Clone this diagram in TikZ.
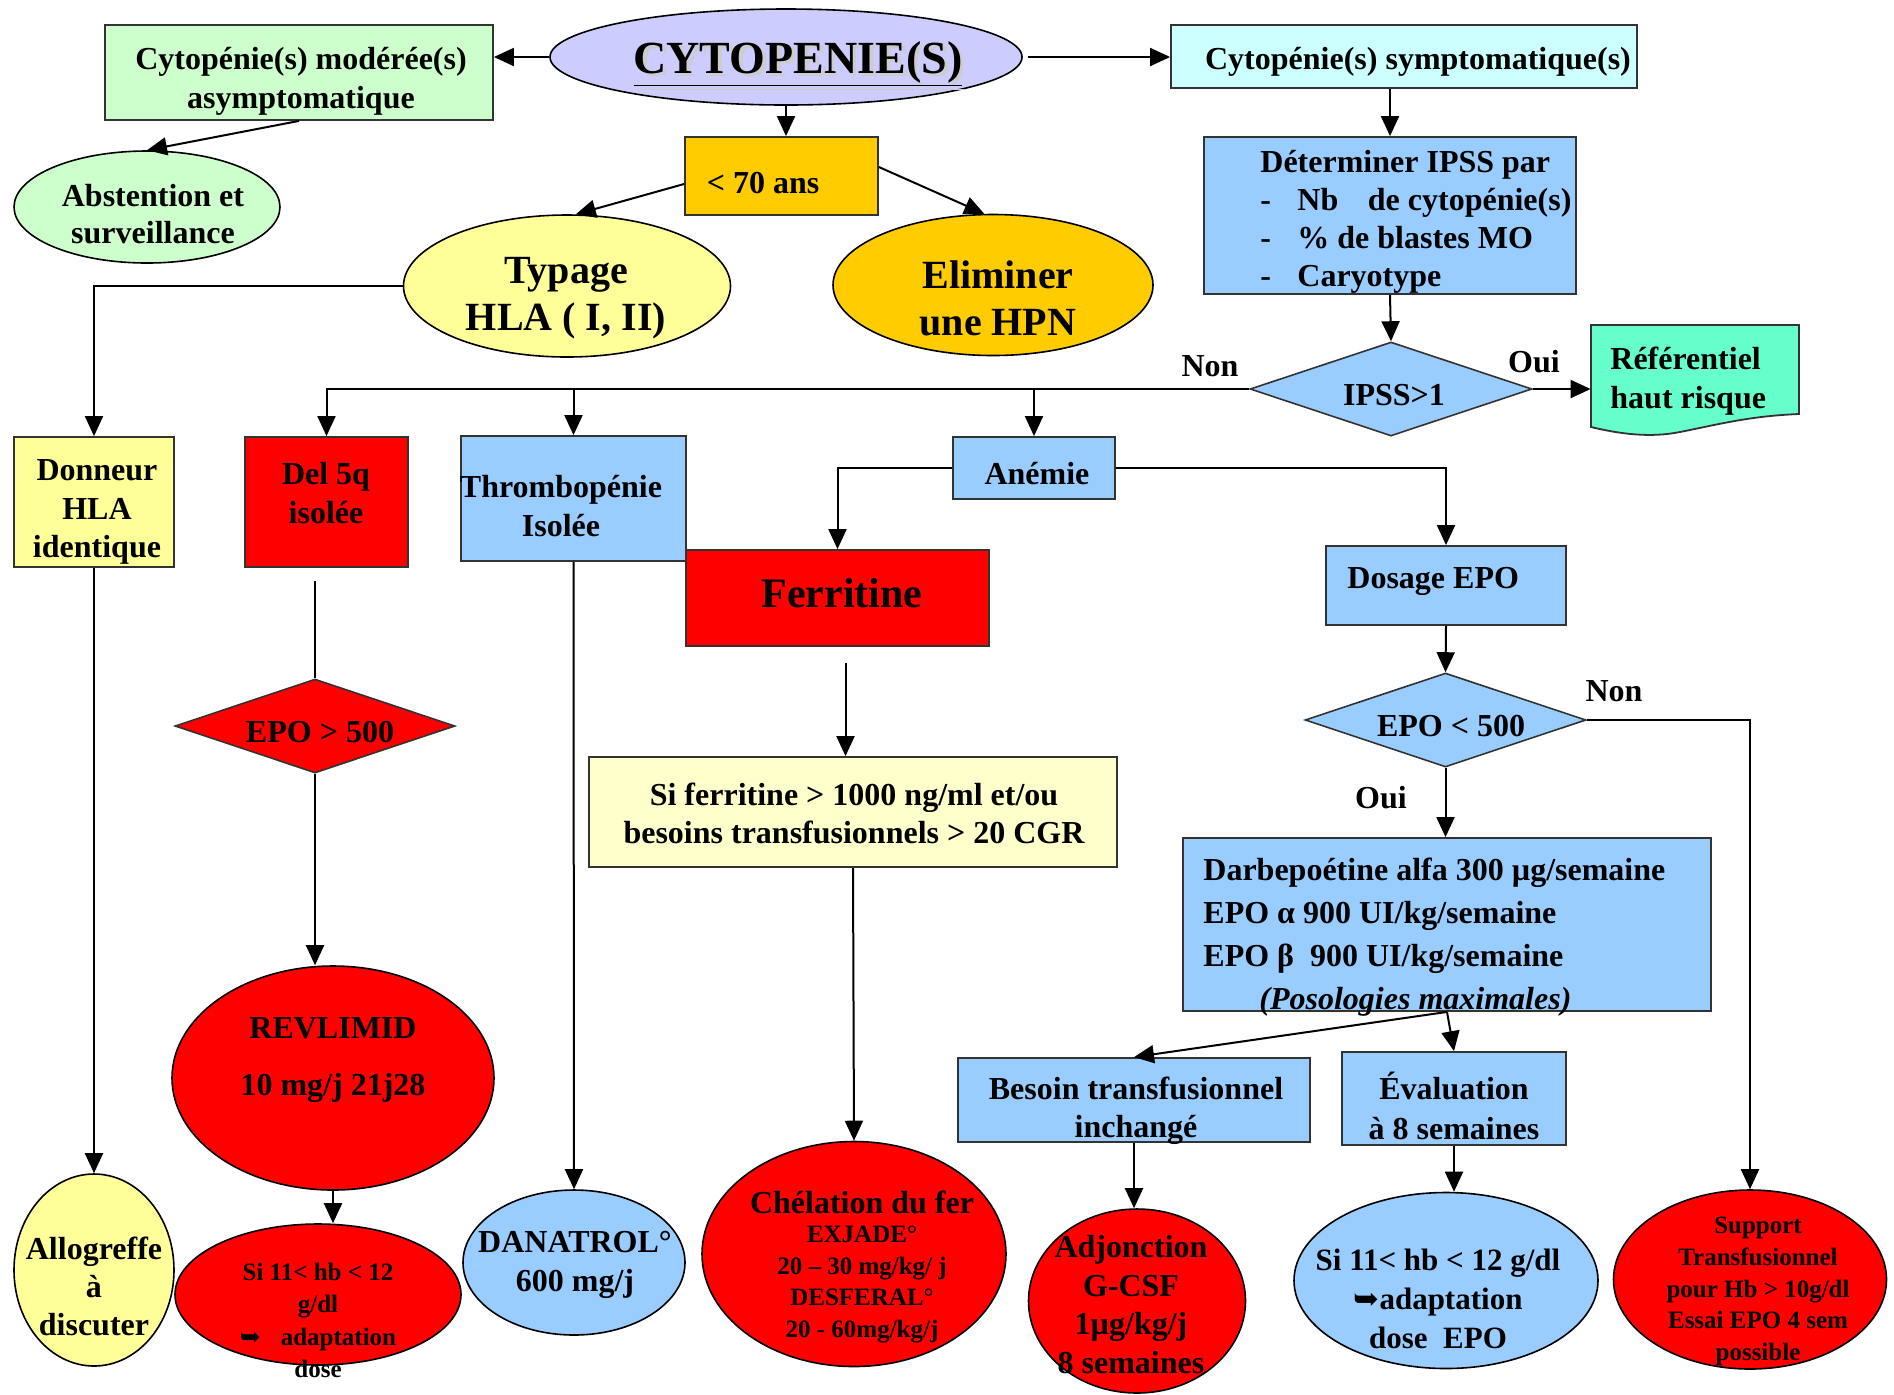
\documentclass[tikz,border=0pt]{standalone}
\usepackage{fontspec}
\setmainfont{Liberation Serif}
\newfontfamily\djv{DejaVu Sans}
\usetikzlibrary{shapes.geometric,arrows.meta,calc}
\definecolor{lav}{HTML}{CCCCFF}
\definecolor{lgreen}{HTML}{CCFFCC}
\definecolor{lcyan}{HTML}{CCFFFF}
\definecolor{gold}{HTML}{FFCC00}
\definecolor{lyel}{HTML}{FFFF99}
\definecolor{pyel}{HTML}{FFFFCC}
\definecolor{lblue}{HTML}{99CCFF}
\definecolor{aqua}{HTML}{66FFCC}
\newcommand\fz[2]{\fontsize{#1}{#2}\selectfont}
\begin{document}
\begin{tikzpicture}[x=0.5pt,y=-0.5pt,
  box/.style={draw=black!80, line width=0.9pt, rectangle, inner sep=0},
  ell/.style={draw=black, line width=0.8pt, ellipse, inner sep=0},
  dia/.style={draw=black!80, line width=0.8pt, diamond, inner sep=0},
  txt/.style={inner sep=0, align=center, yshift=-2pt, font=\bfseries\fz{16}{19.25}},
  arr/.style={line width=1pt, -{Triangle[length=10pt,width=9pt]}},
  ln/.style={line width=1pt}]
\useasboundingbox[fill=white] (0,0) rectangle (1894,1394);

% top
\node[ell, fill=lav, minimum width=236pt, minimum height=48pt] (cyto) at (786,57) {};
\node[txt, font=\bfseries\fz{23}{27}, text=gray!40] (cytoS) at (801.5,63.5) {\underline{CYTOPENIE(S)}};
\node[txt, font=\bfseries\fz{23}{27}] (cytoT) at (798,60) {\underline{CYTOPENIE(S)}};

\node[box, fill=lgreen, minimum width=194pt, minimum height=47.5pt] (mod) at (299,72.5) {};
\node[txt] (modT) at (301,77.5) {Cytopénie(s) modérée(s)\\asymptomatique};

\node[ell, fill=lgreen, minimum width=133pt, minimum height=56pt] (abst) at (147,207) {};
\node[txt, font=\bfseries\fz{16}{18.75}] (abstT) at (153,210) {Abstention et\\surveillance};

\node[box, fill=lcyan, minimum width=233pt, minimum height=31.5pt] (sym) at (1404,56.5) {};
\node[txt] (symT) at (1418,58) {Cytopénie(s) symptomatique(s)};

\node[box, fill=gold, minimum width=96.5pt, minimum height=39pt] (age) at (781.5,176) {};
\node[txt] (ageT) at (763,179) {< 70 ans};

\node[ell, fill=lyel, minimum width=163.5pt, minimum height=71pt] (typ) at (567,286) {};
\node[txt, font=\bfseries\fz{20}{23.5}] (typT) at (566,294) {Typage\\HLA ( I, II)};

\node[ell, fill=gold, minimum width=160pt, minimum height=70.5pt] (elim) at (993,285) {};
\node[txt, font=\bfseries\fz{20}{23.5}] (elimT) at (998,294) {Eliminer\\une HPN};

\node[box, fill=lblue, minimum width=186pt, minimum height=78.5pt] (ipssb) at (1390,215.5) {};
\node[txt, align=left, anchor=west, font=\bfseries\fz{16}{19}] (ipssT) at (1260,218) {Déterminer IPSS par\\\makebox[18.5pt][l]{-}Nb\hspace{14.8pt}de cytopénie(s)\\\makebox[18.5pt][l]{-}\% de blastes MO\\\makebox[18.5pt][l]{-}Caryotype};

\node[dia, fill=lblue, minimum width=141pt, minimum height=47pt] (ipssd) at (1391,389) {};
\node[txt] (ipssdT) at (1394,391) {IPSS>1};
\node[txt] (oui1) at (1534,358) {Oui};
\node[txt] (non1) at (1210,362) {Non};

\path[draw=black!80, line width=0.9pt, fill=aqua] (1591,325) -- (1799,325) -- (1799,414)
  .. controls (1750,416) and (1720,424) .. (1680,432)
  .. controls (1650,438) and (1620,434) .. (1591,427) -- cycle;
\node[inner sep=0, minimum width=104pt, minimum height=56pt] (ref) at (1695,381) {};
\node[txt, align=left, anchor=west] (refT) at (1610,377) {Référentiel\\haut risque};

% middle row
\node[box, fill=lyel, minimum width=80pt, minimum height=65pt] (don) at (94,502) {};
\node[txt] (donT) at (97,508) {Donneur\\HLA\\identique};

\node[box, fill=red, minimum width=81.5pt, minimum height=65pt] (del) at (326.5,502) {};
\node[txt] (delT) at (326,489) {Del 5q\\isolée};

\node[box, fill=lblue, minimum width=112.5pt, minimum height=62.5pt] (thr) at (573.5,498.5) {};
\node[txt] (thrT) at (561,502) {Thrombopénie\\Isolée};

\node[box, fill=lblue, minimum width=81pt, minimum height=31pt] (ane) at (1034,468) {};
\node[txt] (aneT) at (1037,470) {Anémie};

\node[box, fill=red, minimum width=151.5pt, minimum height=48pt] (fer) at (837.5,598) {};
\node[txt, font=\bfseries\fz{21}{25}] (ferT) at (842,589) {Ferritine};

\node[box, fill=pyel, minimum width=264pt, minimum height=55pt] (sif) at (853,812) {};
\node[txt] (sifT) at (854,809.5) {Si ferritine > 1000 ng/ml et/ou\\besoins transfusionnels > 20 CGR};

\node[box, fill=lblue, minimum width=120pt, minimum height=39.5pt] (dos) at (1446,585.5) {};
\node[txt, anchor=west] (dosT) at (1347,577) {Dosage EPO};

\node[dia, fill=lblue, minimum width=140.5pt, minimum height=47pt] (epolt) at (1445.5,720) {};
\node[txt] (epoltT) at (1451,722) {EPO < 500};
\node[txt] (non2) at (1614,687) {Non};
\node[txt] (oui2) at (1381,794) {Oui};

\node[box, fill=lblue, minimum width=264pt, minimum height=86.5pt] (dar) at (1447,924.5) {};
\node[txt, align=left, anchor=west, font=\bfseries\fz{16}{21.5}] (darT) at (1203,933.5) {Darbepoétine alfa 300 µg/semaine\\EPO α 900 UI/kg/semaine\\EPO β\ \ 900 UI/kg/semaine\\\hspace*{28pt}\itshape (Posologies maximales)};

\node[box, fill=lblue, minimum width=176pt, minimum height=42pt] (bes) at (1134,1100) {};
\node[txt] (besT) at (1136,1106.5) {Besoin transfusionnel\\inchangé};

\node[box, fill=lblue, minimum width=112pt, minimum height=46.5pt] (eva) at (1454,1098.5) {};
\node[txt, font=\bfseries\fz{16}{20}] (evaT) at (1454,1102) {Évaluation\\à 8 semaines};

\node[dia, fill=red, minimum width=140pt, minimum height=47pt] (epogt) at (315,726) {};
\node[txt] (epogtT) at (320,728) {EPO > 500};

% bottom
\node[ell, fill=red, minimum width=161pt, minimum height=112pt] (rev) at (333,1078) {};
\node[txt, font=\bfseries\fz{16}{28.5}] (revT) at (333,1056) {REVLIMID\\10 mg/j 21j28};

\node[ell, fill=red, minimum width=143pt, minimum height=70.5pt] (sir) at (318,1294.5) {};
\node[txt, font=\bfseries\fz{12.5}{16.2}] (sirT) at (318,1316.5) {Si 11< hb < 12\\g/dl\\{\djv ➥}\hspace{10pt}adaptation\\dose};

\node[ell, fill=lyel, minimum width=80pt, minimum height=96pt] (allo) at (94,1270) {};
\node[txt, font=\bfseries\fz{16}{19}] (alloT) at (94,1282) {Allogreffe\\à\\discuter};

\node[ell, fill=lblue, minimum width=111pt, minimum height=72.5pt] (dan) at (574,1262.5) {};
\node[txt] (danT) at (575,1261) {DANATROL°\\600 mg/j};

\node[ell, fill=red, minimum width=152pt, minimum height=112.5pt] (chel) at (854,1254) {};
\node[txt] (chelT) at (862,1198) {Chélation du fer};
\node[txt, font=\bfseries\fz{12.5}{15.8}] (chelB) at (862,1280.5) {EXJADE°\\20 – 30 mg/kg/ j\\DESFERAL°\\20 - 60mg/kg/j};

\node[ell, fill=red, minimum width=108.5pt, minimum height=92pt] (adj) at (1137,1301) {};
\node[txt, font=\bfseries\fz{16}{19.25}] (adjT) at (1131,1300.5) {Adjonction\\G-CSF\\1µg/kg/j\\8 semaines};

\node[ell, fill=lblue, minimum width=152pt, minimum height=88pt] (sib) at (1446,1280.5) {};
\node[txt, font=\bfseries\fz{15.5}{19.5}] (sibT) at (1438,1295) {Si 11< hb < 12 g/dl\\{\djv ➥}adaptation\\dose\ \ EPO};

\node[ell, fill=red, minimum width=136.5pt, minimum height=89.5pt] (sup) at (1750,1279.5) {};
\node[txt, font=\bfseries\fz{12.5}{15.8}] (supT) at (1758,1287.5) {Support\\Transfusionnel\\pour Hb > 10g/dl\\Essai EPO 4 sem\\possible};

% connectors
\draw[arr] (cyto.west) -- (cyto.west -| mod.east);
\draw[arr] (mod.south) -- (abst.north);
\draw[arr] ($(cyto.east)+(5,0)$) -- (cyto.east -| sym.west);
\draw[arr] (cyto.south) -- (cyto.south |- age.north);
\draw[arr] ($(age.west)+(0,8)$) -- (typ.83);
\draw[arr] ($(age.east)+(0,-9)$) -- (elim.97);
\draw[arr] (typ.west) -| (don.north);
\draw[arr] (ipssb.north |- sym.south) -- (ipssb.north);
\draw[arr] (ipssb.south) -- (ipssd.north);
\draw[arr] (ipssd.east) -- (ipssd.east -| ref.west);
\draw[arr] (ipssd.west) -| (del.north);
\draw[arr] (thr.north |- ipssd.west) -- (thr.north);
\draw[arr] (ane.north |- ipssd.west) -- (ane.north);
\draw[arr] (ane.west) -| (fer.north);
\draw[arr] (ane.east) -| (dos.north);
\draw[arr] ($(fer.south)+(8,16)$) coordinate (f1) -- (f1 |- sif.north);
\draw[arr] (sif.south) -- (chel.north);
\draw[arr] (thr.south) -- (dan.north);
\draw[ln] ($(epogt.north)+(0,-97)$) -- (epogt.north);
\draw[arr] (epogt.south) -- (epogt.south |- rev.north);
\draw[arr] (rev.south) -- (rev.south |- sir.north);
\draw[arr] (don.south) -- (allo.north);
\draw[arr] (dos.south) -- (epolt.north);
\draw[arr] (epolt.east) -| (sup.north);
\draw[arr] (epolt.south) -- (epolt.south |- dar.north);
\draw[arr] (dar.south) -- (bes.north);
\draw[arr] (dar.south) -- (eva.north);
\draw[arr] (bes.south) -- (bes.south |- adj.north);
\draw[arr] (eva.south) -- (eva.south |- sib.north);
\end{tikzpicture}
\end{document}
